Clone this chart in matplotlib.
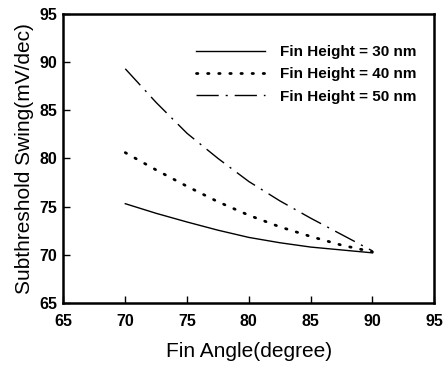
import matplotlib
matplotlib.use("Agg")
import matplotlib.pyplot as plt

plt.rcParams.update({
    "font.family": ["Liberation Sans", "DejaVu Sans"],
    "xtick.direction": "in", "ytick.direction": "in",
})

# fin angle (degree) and subthreshold swing (mV/dec)
angle = [70, 72.5, 75, 77.5, 80, 82.5, 85, 87.5, 90]
ss_30 = [75.3, 74.3, 73.4, 72.55, 71.8, 71.25, 70.8, 70.5, 70.2]
ss_40 = [80.6, 78.8, 77.1, 75.5, 74.1, 72.9, 71.9, 71.0, 70.3]
ss_50 = [89.3, 85.8, 82.6, 80.0, 77.6, 75.6, 73.8, 72.1, 70.4]
labels = ["Fin Height = 30 nm", "Fin Height = 40 nm", "Fin Height = 50 nm"]

fig = plt.figure(figsize=(4.44, 3.65), dpi=100)
ax = fig.add_axes([0.143, 0.170, 0.835, 0.792])

ax.plot(angle, ss_30, color="k", lw=1.0, label=labels[0])
ax.plot(angle, ss_40, color="k", lw=2.0, ls=(0, (0.5, 3.5)),
        dash_capstyle="round", label=labels[1])
ax.plot(angle, ss_50, color="k", lw=1.0, ls=(0, (16, 5, 1.5, 5)), label=labels[2])

ax.set_xlim(65, 95)
ax.set_ylim(65, 95)
ax.set_xticks(range(65, 96, 5))
ax.set_yticks(range(65, 96, 5))
for lab in ax.get_xticklabels() + ax.get_yticklabels():
    lab.set_fontweight("bold")
ax.tick_params(labelsize=11.5, length=5, width=1)
ax.tick_params(axis="x", pad=8)
ax.tick_params(axis="y", pad=4.5)
for s in ax.spines.values():
    s.set_linewidth(1.8)

ax.set_xlabel("Fin Angle(degree)", fontsize=15, labelpad=9)
ax.set_ylabel("Subthreshold Swing(mV/dec)", fontsize=15, labelpad=4)

leg = ax.legend(loc="upper right", bbox_to_anchor=(0.99, 0.94), frameon=False,
                prop={"weight": "bold", "size": 11}, handlelength=4.5,
                handletextpad=1.0, labelspacing=0.55)

fig.savefig("out.png", dpi=100)
